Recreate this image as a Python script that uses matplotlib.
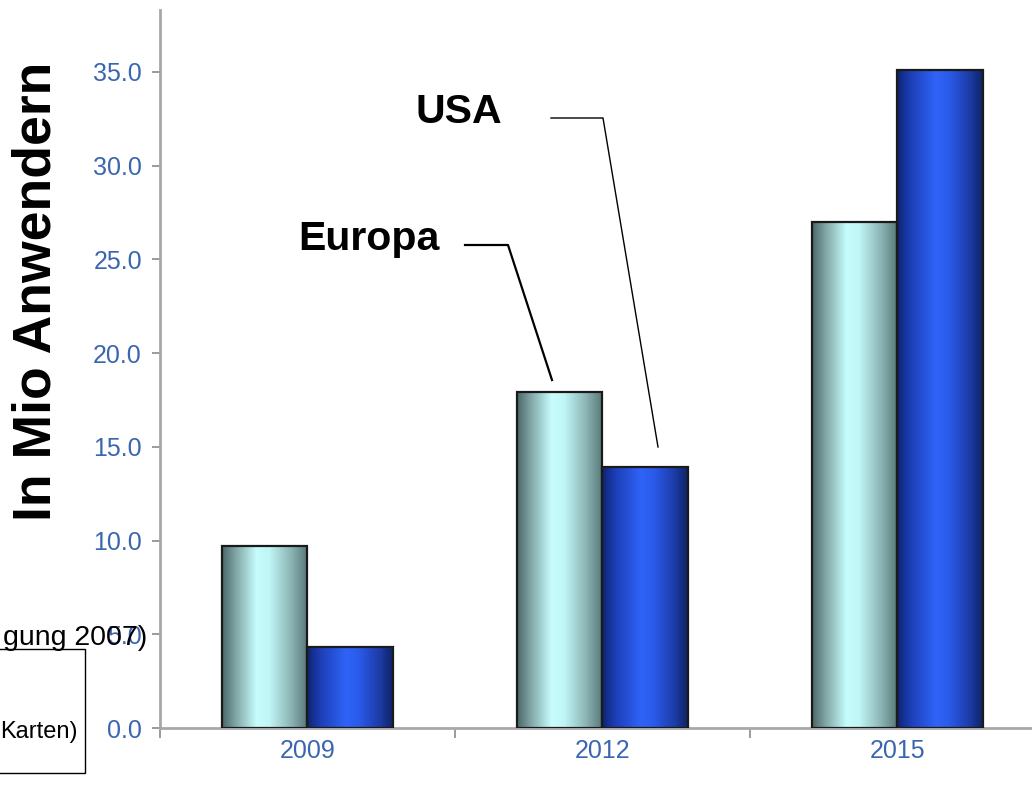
import numpy as np
import matplotlib
matplotlib.use("Agg")
import matplotlib.pyplot as plt
from matplotlib.colors import LinearSegmentedColormap
from matplotlib.lines import Line2D
from matplotlib.patches import Rectangle

# Data
years = ["2009", "2012", "2015"]
europa = [9.7, 17.9, 27.0]
usa = [4.3, 13.9, 35.1]
yticks = [0, 5, 10, 15, 20, 25, 30, 35]

W, H = 1032, 789
fig = plt.figure(figsize=(W / 100, H / 100), dpi=100)
fig.patch.set_facecolor("white")


def fx(px):
    return px / W


def fy(py):
    return 1 - py / H


ax = fig.add_axes([fx(160), fy(728), fx(1044.5) - fx(160), (728 - 10) / H])

x = np.arange(len(years))
width = 0.29

eu_cmap = LinearSegmentedColormap.from_list(
    "eu", [(0, "#4a6767"), (0.15, "#7ea2a2"), (0.4, "#c6fcfc"),
           (0.55, "#c0f6f6"), (0.8, "#8db6b6"), (1, "#577777")])
us_cmap = LinearSegmentedColormap.from_list(
    "us", [(0, "#0e2370"), (0.15, "#1c3eb4"), (0.45, "#2f63f7"),
           (0.6, "#2b5beb"), (0.85, "#1c3ba5"), (1, "#0e2366")])

grad = np.linspace(0, 1, 256).reshape(1, -1)

for vals, offset, cmap in [(europa, -width / 2, eu_cmap), (usa, width / 2, us_cmap)]:
    bars = ax.bar(x + offset, vals, width=width, facecolor="none",
                  edgecolor="#1a1a1a", linewidth=1.6, zorder=3)
    for b in bars:
        x0, y0 = b.get_x(), b.get_y()
        w, h = b.get_width(), b.get_height()
        im = ax.imshow(grad, cmap=cmap, extent=[x0, x0 + w, y0, y0 + h],
                       aspect="auto", zorder=2, interpolation="bilinear")
        im.set_clip_path(b)

ax.set_xlim(-0.5, 2.5)
ax.set_ylim(0, 38.3)

for side in ["top", "right"]:
    ax.spines[side].set_visible(False)
for side in ["left", "bottom"]:
    ax.spines[side].set_color("#a8a8a8")
    ax.spines[side].set_linewidth(2)

ax.set_yticks(yticks)
ax.set_yticklabels([f"{v:.1f}" for v in yticks])
ax.tick_params(axis="y", direction="out", length=6, width=1.2, color="#8a8a8a",
               pad=7, labelsize=18, labelcolor="#3a66b0")
ax.set_xticks(x)
ax.set_xticklabels(years)
ax.tick_params(axis="x", which="major", length=0, pad=8, labelsize=18,
               labelcolor="#3a66b0")
ax.set_xticks([-0.5, 0.5, 1.5, 2.5], minor=True)
ax.tick_params(axis="x", which="minor", direction="out", length=7, width=1.2,
               color="#8a8a8a")
for lab in ax.get_xticklabels() + ax.get_yticklabels():
    lab.set_family("Liberation Sans")

# Axis title
fig.text(fx(62), fy(291), "In Mio Anwendern", rotation=90, ha="right",
         va="center", fontsize=38.5, fontweight="bold", family="Liberation Sans",
         color="black")

# Series callouts
fig.text(fx(298), fy(250), "Europa", ha="left", va="baseline", fontsize=29.5,
         fontweight="bold", family="Liberation Sans", color="black")
fig.text(fx(415), fy(123), "USA", ha="left", va="baseline", fontsize=29.5,
         fontweight="bold", family="Liberation Sans", color="black")

eu_pts = [(465, 245), (508, 245), (552, 380)]
us_pts = [(551, 118), (603, 118), (658, 447)]
fig.add_artist(Line2D([fx(p[0]) for p in eu_pts], [fy(p[1]) for p in eu_pts],
                      transform=fig.transFigure, color="black", linewidth=1.6))
fig.add_artist(Line2D([fx(p[0]) for p in us_pts], [fy(p[1]) for p in us_pts],
                      transform=fig.transFigure, color="black", linewidth=1.0))

# Text fragments on the left edge
fig.text(fx(147), fy(645), "gung 2007)", ha="right", va="baseline",
         fontsize=20.5, family="Liberation Sans", color="black", zorder=5)
fig.add_artist(Rectangle((fx(-10), fy(773)), fx(95), fy(649) - fy(773),
                         transform=fig.transFigure, fill=False,
                         edgecolor="black", linewidth=1.0))
fig.text(fx(78), fy(738), "Karten)", ha="right", va="baseline",
         fontsize=17, family="Liberation Sans", color="black", zorder=5)

fig.savefig("out.png", dpi=100, facecolor="white")
